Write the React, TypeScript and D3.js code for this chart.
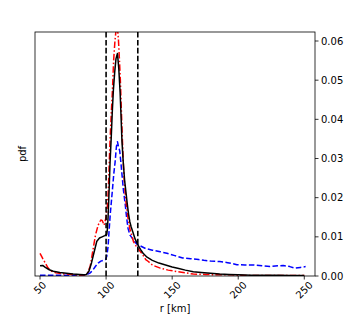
import React from "react";
import * as d3 from "d3";

const WIDTH = 350;
const HEIGHT = 326;
const MARGIN = { top: 32, right: 35, bottom: 50, left: 35 };

// r [km] and pdf values for the three curves
const BLACK_R = [50, 52, 54, 57, 60, 65, 70, 75, 80, 83, 85, 87, 89, 91, 93, 95, 97, 99, 100.5, 101, 101.5, 102.3, 103, 103.8, 104.7, 105.5, 106.5, 107.5, 108.6, 109.6, 110.6, 111.3, 112, 113, 114, 115, 116, 117, 118, 119, 120, 122, 124, 126, 128, 131, 135, 140, 145, 150, 155, 160, 166, 172, 179, 186, 193, 200, 210, 220, 230, 240, 250];
const BLACK_PDF = [0.0026, 0.0027, 0.0022, 0.0016, 0.0012, 0.0009, 0.0007, 0.0005, 0.0004, 0.0003, 0.0004, 0.0012, 0.0034, 0.0062, 0.0089, 0.0097, 0.01, 0.0103, 0.0106, 0.012, 0.015, 0.022, 0.029, 0.0347, 0.042, 0.0474, 0.052, 0.0555, 0.0568, 0.053, 0.047, 0.041, 0.0345, 0.029, 0.0245, 0.0215, 0.0185, 0.0158, 0.0138, 0.0125, 0.0115, 0.0094, 0.008, 0.0068, 0.0058, 0.0048, 0.004, 0.0033, 0.0028, 0.0023, 0.0019, 0.0015, 0.0011, 0.0009, 0.0007, 0.0005, 0.0004, 0.0003, 0.0002, 0.0002, 0.0002, 0.0001, 0.0001];

const RED_R = [50, 52, 54, 56, 58, 62, 66, 70, 75, 80, 84, 86, 88, 90, 92, 94, 96, 97, 98.5, 100, 101, 101.7, 102.4, 103, 104, 104.8, 105.7, 106.7, 107.6, 108.4, 109.3, 110, 110.8, 111.5, 112.2, 113, 114, 115, 116.5, 118, 119, 120.7, 122, 124, 127, 130, 132, 135, 138, 141, 147, 154, 160, 166, 175, 185, 195, 200, 210, 220, 235, 250];
const RED_PDF = [0.0058, 0.0045, 0.0033, 0.0021, 0.0013, 0.0008, 0.0006, 0.0005, 0.0004, 0.0002, 0.0003, 0.0008, 0.0025, 0.0065, 0.0105, 0.013, 0.0143, 0.0142, 0.013, 0.015, 0.018, 0.022, 0.029, 0.0347, 0.042, 0.0474, 0.055, 0.06, 0.063, 0.064, 0.0606, 0.056, 0.05, 0.043, 0.036, 0.029, 0.023, 0.019, 0.015, 0.012, 0.0109, 0.0088, 0.008, 0.007, 0.0058, 0.0042, 0.0037, 0.0028, 0.0024, 0.002, 0.0015, 0.0011, 0.0008, 0.0005, 0.0004, 0.0003, 0.0003, 0.0002, 0.0001, 0.0001, 0.0001, 0.0001];

const BLUE_R = [50, 60, 70, 80, 85, 88, 90, 92, 94, 96, 98, 99.5, 100.5, 101.5, 102.3, 103.2, 104, 104.8, 105.8, 106.8, 107.8, 108.6, 109.4, 110.3, 111.2, 112, 113.1, 114.4, 115.5, 116.6, 118, 120.7, 123, 125.8, 130, 135, 141, 146, 152, 158, 164, 170, 174, 179, 186, 192, 199, 205, 212, 218, 224, 230, 234, 239, 243, 247, 251];
const BLUE_PDF = [0.0002, 0.0002, 0.0002, 0.0002, 0.0003, 0.0008, 0.0015, 0.0025, 0.0033, 0.0038, 0.004, 0.0042, 0.005, 0.0075, 0.0117, 0.016, 0.019, 0.022, 0.026, 0.029, 0.033, 0.0343, 0.033, 0.032, 0.029, 0.026, 0.022, 0.0185, 0.015, 0.0122, 0.0105, 0.0092, 0.0082, 0.0077, 0.007, 0.0066, 0.0062, 0.0058, 0.0052, 0.0046, 0.0044, 0.0042, 0.004, 0.0038, 0.0037, 0.0034, 0.0029, 0.0028, 0.0028, 0.0026, 0.0024, 0.0026, 0.0027, 0.0024, 0.002, 0.0022, 0.0024];

const VLINES = [100, 124];
const X_TICKS = [50, 100, 150, 200, 250];
const Y_TICKS = [0, 0.01, 0.02, 0.03, 0.04, 0.05, 0.06];

const FONT = "DejaVu Sans, sans-serif";

export default function App() {
  const innerW = WIDTH - MARGIN.left - MARGIN.right;
  const innerH = HEIGHT - MARGIN.top - MARGIN.bottom;
  const x = d3.scaleLinear().domain([46.2, 258.1]).range([0, innerW]);
  const y = d3.scaleLinear().domain([0, 0.0623]).range([innerH, 0]);

  const line = d3
    .line<[number, number]>()
    .x((d) => x(d[0]))
    .y((d) => y(d[1]));

  const series = [
    { r: BLUE_R, v: BLUE_PDF, color: "#0000ff", dash: "5.5,2.4" },
    { r: RED_R, v: RED_PDF, color: "#ff0000", dash: "6.5,2.2,1.5,2.2" },
    { r: BLACK_R, v: BLACK_PDF, color: "#000000", dash: undefined },
  ];

  return (
    <svg
      width={WIDTH}
      height={HEIGHT}
      style={{ position: "absolute", left: 0, top: 0, background: "#fff" }}
      fontFamily={FONT}
    >
      <defs>
        <clipPath id="plotClip">
          <rect x={0} y={0} width={innerW} height={innerH} />
        </clipPath>
      </defs>
      <g transform={`translate(${MARGIN.left},${MARGIN.top})`}>
        <g clipPath="url(#plotClip)">
          {series.map((s, i) => (
            <path
              key={i}
              d={line(s.r.map((r, j) => [r, s.v[j]] as [number, number])) || ""}
              fill="none"
              stroke={s.color}
              strokeWidth={1.5}
              strokeDasharray={s.dash}
              strokeLinejoin="round"
            />
          ))}
          {VLINES.map((r) => (
            <line
              key={r}
              x1={x(r)}
              x2={x(r)}
              y1={innerH}
              y2={0}
              stroke="#000"
              strokeWidth={1.6}
              strokeDasharray="5.55,2.4"
            />
          ))}
        </g>

        <rect x={0} y={0} width={innerW} height={innerH} fill="none" stroke="#000" strokeWidth={0.8} />

        {X_TICKS.map((t) => {
          const label = String(t);
          const w = label.length * 6.36;
          const cy = innerH + 4 + (w + 9) * 0.3535;
          return (
            <g key={t}>
              <line x1={x(t)} x2={x(t)} y1={innerH} y2={innerH + 3.5} stroke="#000" strokeWidth={0.8} />
              <text
                transform={`translate(${x(t)},${cy}) rotate(-45)`}
                textAnchor="middle"
                dominantBaseline="central"
                fontSize={10}
              >
                {label}
              </text>
            </g>
          );
        })}

        {Y_TICKS.map((t) => (
          <g key={t} transform={`translate(${innerW},${y(t)})`}>
            <line x1={0} x2={3.5} stroke="#000" strokeWidth={0.8} />
            <text x={6} dy="0.35em" fontSize={10}>
              {t.toFixed(2)}
            </text>
          </g>
        ))}

        <text x={innerW / 2} y={innerH + 36} textAnchor="middle" fontSize={10}>
          r [km]
        </text>
        <text
          transform={`translate(${-9},${innerH / 2}) rotate(-90)`}
          textAnchor="middle"
          fontSize={10}
        >
          pdf
        </text>
      </g>
    </svg>
  );
}
